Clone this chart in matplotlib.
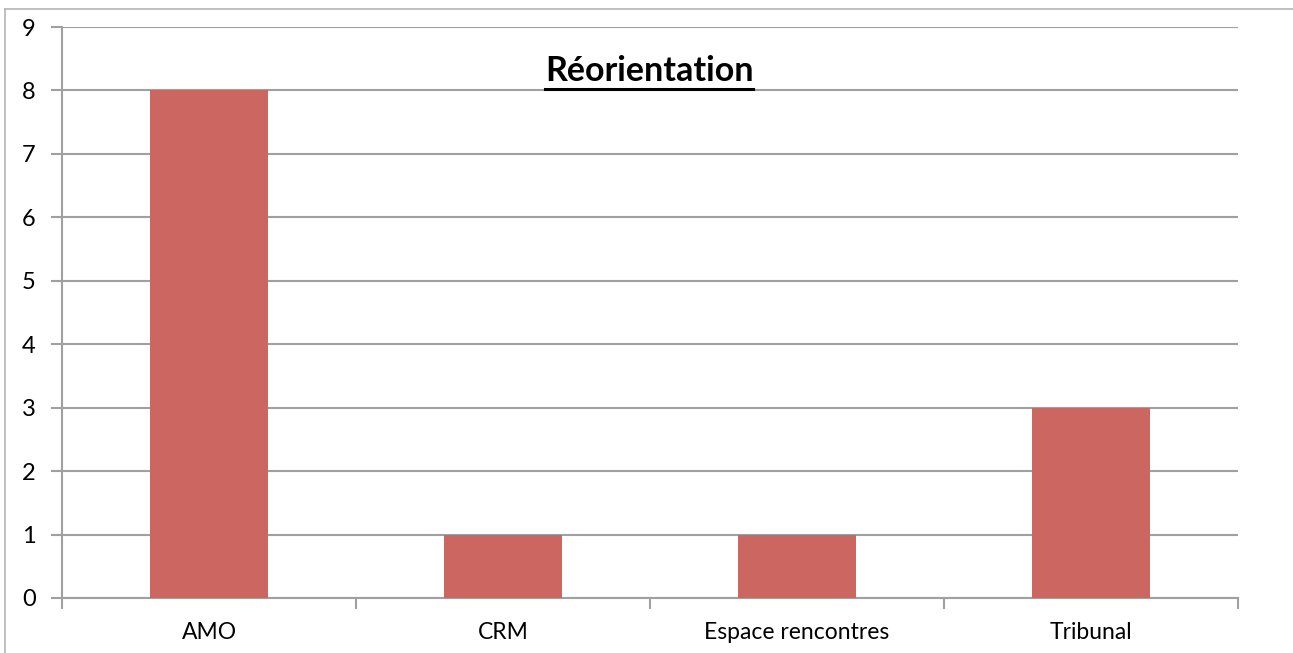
import matplotlib
matplotlib.use('Agg')
import matplotlib.pyplot as plt
from matplotlib.lines import Line2D

categories = ['AMO', 'CRM', 'Espace rencontres', 'Tribunal']
values = [8, 1, 1, 3]
y_ticks = list(range(0, 10))
title = 'Réorientation'

plt.rcParams['font.family'] = ['Lato', 'DejaVu Sans']
grid_col = '#a0a0a0'
bar_col = '#cc6660'

W, H = 1293, 653
fig = plt.figure(figsize=(W / 100, H / 100), dpi=100)
ax = fig.add_axes([62 / W, (H - 598) / H, (1238 - 62) / W, (598 - 27) / H])

x = list(range(len(categories)))
ax.bar(x, values, width=0.4, color=bar_col, zorder=3)

ax.set_xlim(-0.5, len(categories) - 0.5)
ax.set_ylim(0, 9)
ax.set_yticks(y_ticks)
ax.yaxis.grid(True, color=grid_col, linewidth=1.5, zorder=0)

# category labels between boundary ticks
ax.set_xticks([i - 0.5 for i in range(len(categories) + 1)])
ax.set_xticklabels([])
ax.set_xticks(x, minor=True)
ax.set_xticklabels(categories, minor=True, fontsize=16.5)
ax.tick_params(axis='x', which='minor', length=0, pad=17)
ax.tick_params(axis='x', which='major', length=8, width=1.5, color=grid_col)
ax.tick_params(axis='y', length=8, width=1.5, color=grid_col, labelsize=17, pad=11)

for s in ['top', 'right']:
    ax.spines[s].set_visible(False)
for s in ['left', 'bottom']:
    ax.spines[s].set_color(grid_col)
    ax.spines[s].set_linewidth(1.5)

t = fig.text(649 / W, (H - 81) / H, title, ha='center', va='baseline',
             fontsize=24.5, fontweight='bold')
fig.canvas.draw()
bb = t.get_window_extent()
uy = (H - 88.5) / H
fig.add_artist(Line2D([bb.x0 / W, bb.x1 / W], [uy, uy], color='black', linewidth=2.2,
                      transform=fig.transFigure))

# outer chart border (left and top visible)
fig.add_artist(Line2D([4.5 / W, 4.5 / W], [0, (H - 8.5) / H], color='#b5b5b5',
                      linewidth=1.2, transform=fig.transFigure))
fig.add_artist(Line2D([4.5 / W, 1], [(H - 8.5) / H, (H - 8.5) / H], color='#b5b5b5',
                      linewidth=1.2, transform=fig.transFigure))

fig.savefig('out.png', dpi=100)
